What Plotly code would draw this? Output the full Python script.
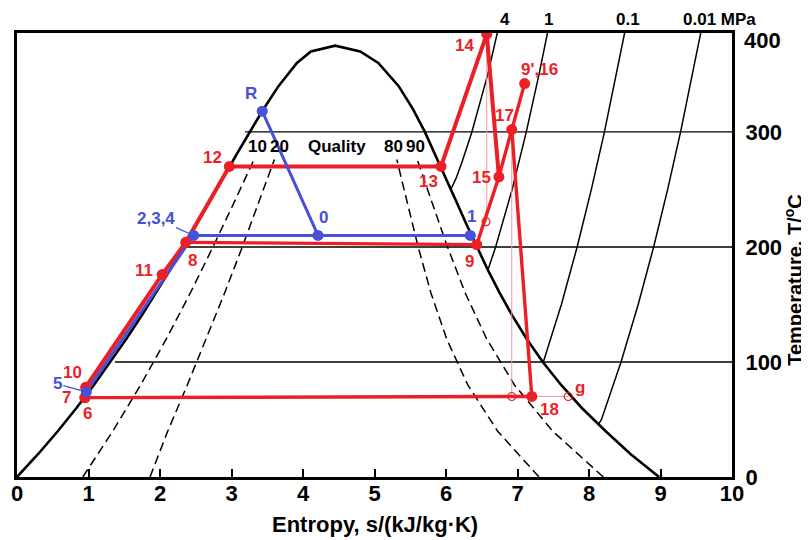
import plotly.graph_objects as go

# ---------------- data ----------------
# saturation dome (liquid side and vapour side): entropy s [kJ/kg K], temperature T [degC]
dome_liq_s = [0.0, 0.2965, 0.5724, 0.8312, 1.0754, 1.3069, 1.5278, 1.7391, 1.9426, 2.1392,
              2.3305, 2.5177, 2.7020, 2.8838, 3.0668, 3.2534, 3.4480, 3.6594, 3.9147, 4.1106, 4.45]
dome_liq_T = [0, 20, 40, 60, 80, 100, 120, 140, 160, 180, 200, 220, 240, 260, 280, 300, 320, 340, 360, 370, 375]
dome_vap_s = [4.45, 4.80, 5.053, 5.336, 5.536, 5.704, 5.853, 5.998, 6.141, 6.284, 6.431, 6.585,
              6.750, 6.930, 7.129, 7.354, 7.61, 7.90, 8.23, 8.58, 8.98]
dome_vap_T = [375, 370, 360, 340, 320, 300, 280, 260, 240, 220, 200, 180, 160, 140, 120, 100, 80, 60, 40, 20, 0]

# constant-quality lines (10, 20, 80, 90 %)
qual_T = [0, 40, 80, 120, 160, 200, 240, 276]
qual10_s = [0.92, 1.341, 1.729, 2.088, 2.424, 2.741, 3.046, 3.315]
qual20_s = [1.86, 2.109, 2.382, 2.648, 2.904, 3.151, 3.390, 3.600]
qual80_s = [7.30, 6.720, 6.305, 6.009, 5.789, 5.611, 5.453, 5.312]
qual90_s = [8.20, 7.489, 6.958, 6.569, 6.269, 6.021, 5.797, 5.597]
qual_labels = ["10", "20", "Quality", "80", "90"]
qual_label_s = [3.36, 3.67, 4.48, 5.26, 5.57]
qual_label_T = 287

# isobars in the superheated region
p4_s = [6.070, 6.143, 6.230, 6.362, 6.584, 6.769]
p4_T = [250.4, 260, 275, 300, 350, 400]
p1_s = [6.586, 6.694, 6.925, 7.123, 7.301, 7.465]
p1_T = [179.9, 200, 250, 300, 350, 400]
p01_s = [7.359, 7.614, 7.834, 8.033, 8.216, 8.387, 8.544]
p01_T = [99.6, 150, 200, 250, 300, 350, 400]
p001_s = [8.130, 8.175, 8.448, 8.688, 8.904, 9.100, 9.281, 9.450, 9.608]
p001_T = [45.8, 50, 100, 150, 200, 250, 300, 350, 400]
pressure_labels = ["4", "1", "0.1", "0.01 MPa"]
pressure_label_s = [6.83, 7.43, 8.55, 9.83]

# temperature grid lines (start on the liquid line, run to s = 10)
grid_T = [100, 200, 300]
grid_s_start = [1.37, 2.33, 3.19]
s_max = 10

# blue cycle states
blue_names = ["R", "0", "1", "2,3,4", "5"]
blue_s = [3.43, 4.21, 6.34, 2.47, 0.97]
blue_T = [318, 210, 210, 210, 74]

# red cycle states
red_names = ["6", "7", "10", "11", "8", "12", "13", "14", "15", "17", "9',16", "9", "18"]
red_s = [0.95, 0.95, 0.96, 2.03, 2.36, 2.97, 5.93, 6.57, 6.74, 6.92, 7.10, 6.43, 7.20]
red_T = [69, 69, 78, 176, 204, 270, 270, 385, 261, 302, 342, 202, 70]

# auxiliary (open) state points
aux_names = ["a", "b", "g"]
aux_s = [6.56, 6.92, 7.71]
aux_T = [222, 70, 70]

RED = "#ec1f27"
BLUE = "#4650d8"
PINK = "#f39a9a"


def red_pt(name):
    i = red_names.index(name)
    return red_s[i], red_T[i]


def blue_pt(name):
    i = blue_names.index(name)
    return blue_s[i], blue_T[i]


def aux_pt(name):
    i = aux_names.index(name)
    return aux_s[i], aux_T[i]


fig = go.Figure()


def line(xs, ys, color="black", width=1.5, dash="solid"):
    fig.add_trace(go.Scatter(x=xs, y=ys, mode="lines",
                             line=dict(color=color, width=width, dash=dash),
                             hoverinfo="skip"))


# grid lines
gx, gy = [], []
for t, s0 in zip(grid_T, grid_s_start):
    gx += [s0, s_max, None]
    gy += [t, t, None]
line(gx, gy, width=1.4)

# quality lines
for qs in (qual10_s, qual20_s, qual80_s, qual90_s):
    line(qs, qual_T, width=1.5, dash="9px,5px")

# isobars
for ps, pt in ((p4_s, p4_T), (p1_s, p1_T), (p01_s, p01_T), (p001_s, p001_T)):
    line(ps, pt, width=1.5)

# dome
line(dome_liq_s + dome_vap_s, dome_liq_T + dome_vap_T, width=2.6)

# thin pink construction lines
s14, T14 = red_pt("14")
sa, Ta = aux_pt("a")
s17, T17 = red_pt("17")
sb, Tb = aux_pt("b")
s18, T18 = red_pt("18")
sg, Tg = aux_pt("g")
line([s14, s14, None, s17, s17, None, s18, sg],
     [T14, Ta, None, T17, Tb, None, T18, Tg], color=PINK, width=1)


def red_path(names, width=3.4):
    pts = [red_pt(n) for n in names]
    line([p[0] for p in pts], [p[1] for p in pts], color=RED, width=width)


red_path(["6", "18"])
red_path(["7", "10", "11", "8", "12", "13", "14", "15"], width=4)
red_path(["8", "9"])
red_path(["9", "15", "17", "9',16"])
red_path(["17", "18"])

# blue paths
bp = [blue_pt(n) for n in ["5", "2,3,4", "0", "1"]]
line([p[0] for p in bp], [p[1] for p in bp], color=BLUE, width=3)
bp = [blue_pt(n) for n in ["R", "0"]]
line([p[0] for p in bp], [p[1] for p in bp], color=BLUE, width=3)

# markers
fig.add_trace(go.Scatter(x=red_s, y=red_T, mode="markers",
                         marker=dict(color=RED, size=11), hoverinfo="skip"))
fig.add_trace(go.Scatter(x=blue_s, y=blue_T, mode="markers",
                         marker=dict(color=BLUE, size=11), hoverinfo="skip"))
fig.add_trace(go.Scatter(x=aux_s, y=aux_T, mode="markers",
                         marker=dict(color="rgba(0,0,0,0)", size=8,
                                     line=dict(color=RED, width=1.2)),
                         hoverinfo="skip"))

# ---------------- annotations ----------------
LBL = dict(family="Liberation Sans, Arial, sans-serif", size=17, weight="bold")
C = dict(xanchor="center", yanchor="middle", showarrow=False)
ann = []
red_shift = {"6": (3, -16), "7": (-18, 0), "10": (-13, 15), "11": (-18, 4), "8": (7, -18),
             "12": (-17, 9), "13": (-13, -15), "14": (-22, -11), "15": (-17, -1),
             "17": (-7, 14), "9',16": (15, 14), "9": (-7, -17), "18": (18, -13)}
for n, s, t in zip(red_names, red_s, red_T):
    dx, dy = red_shift[n]
    ann.append(dict(C, x=s, y=t, text=n, xshift=dx, yshift=dy, font=dict(LBL, color=RED)))
ann.append(dict(C, x=sg, y=Tg, text="g", xshift=12, yshift=9, font=dict(LBL, color=RED)))

blue_shift = {"R": (-11, 18), "0": (5, 18), "1": (1, 19)}
for n, s, t in zip(blue_names, blue_s, blue_T):
    if n in blue_shift:
        dx, dy = blue_shift[n]
        ann.append(dict(C, x=s, y=t, text=n, xshift=dx, yshift=dy, font=dict(LBL, color=BLUE)))
s234, T234 = blue_pt("2,3,4")
ann.append(dict(x=s234, y=T234, text="2,3,4", showarrow=True, arrowhead=0, arrowwidth=1.3,
                arrowcolor=BLUE, ax=-38, ay=-17, standoff=3, font=dict(LBL, color=BLUE)))
s5, T5 = blue_pt("5")
ann.append(dict(x=s5, y=T5, text="5", showarrow=True, arrowhead=0, arrowwidth=1.3,
                arrowcolor=BLUE, ax=-29, ay=-8, standoff=3, font=dict(LBL, color=BLUE)))

for txt, s in zip(qual_labels, qual_label_s):
    ann.append(dict(C, x=s, y=qual_label_T, text=txt, font=dict(LBL, color="black")))

for txt, s in zip(pressure_labels, pressure_label_s):
    ann.append(dict(C, x=s, xref="x", y=1.0315, yref="paper", text=txt,
                    font=dict(LBL, color="black")))

AX = dict(family="Liberation Sans, Arial, sans-serif", size=22, weight="bold", color="black")
AXT = dict(AX, size=20)
ann.append(dict(C, x=1.042, y=0.984, xref="paper", yref="paper", text="400", font=AX))
ann.append(dict(C, x=0.5007, y=-0.108, xref="paper", yref="paper",
                text="Entropy, s/(kJ/kg·K)", font=AX))
ann.append(dict(C, x=1.0865, y=0.4437, xref="paper", yref="paper", textangle=-90,
                text="Temperature, T/<sup>o</sup>C", font=AXT))

x_ticks = [0, 1, 2, 3, 4, 5, 6, 7, 8, 9, 10]
y_ticks = [0, 100, 200, 300]

# the page body has an 8px margin, so the figure is 8px smaller than the window
fig.update_layout(
    width=801, height=532,
    margin=dict(l=9, r=77, t=25, b=63),
    plot_bgcolor="white", paper_bgcolor="white",
    showlegend=False,
    annotations=ann,
    xaxis=dict(range=[0, 10], tickvals=x_ticks, ticks="inside", ticklen=8, tickwidth=2,
               tickcolor="black", showline=True, linewidth=3, linecolor="black", mirror=True,
               showgrid=False, zeroline=False, tickfont=AX, ticklabelstandoff=-5,
               automargin=False),
    yaxis=dict(range=[0, 386], side="right", tickvals=y_ticks, ticks="", showline=True,
               linewidth=3, linecolor="black", mirror=True, showgrid=False, zeroline=False,
               tickfont=AX, ticklabelstandoff=6, automargin=False),
)

fig.write_html("out.html")
